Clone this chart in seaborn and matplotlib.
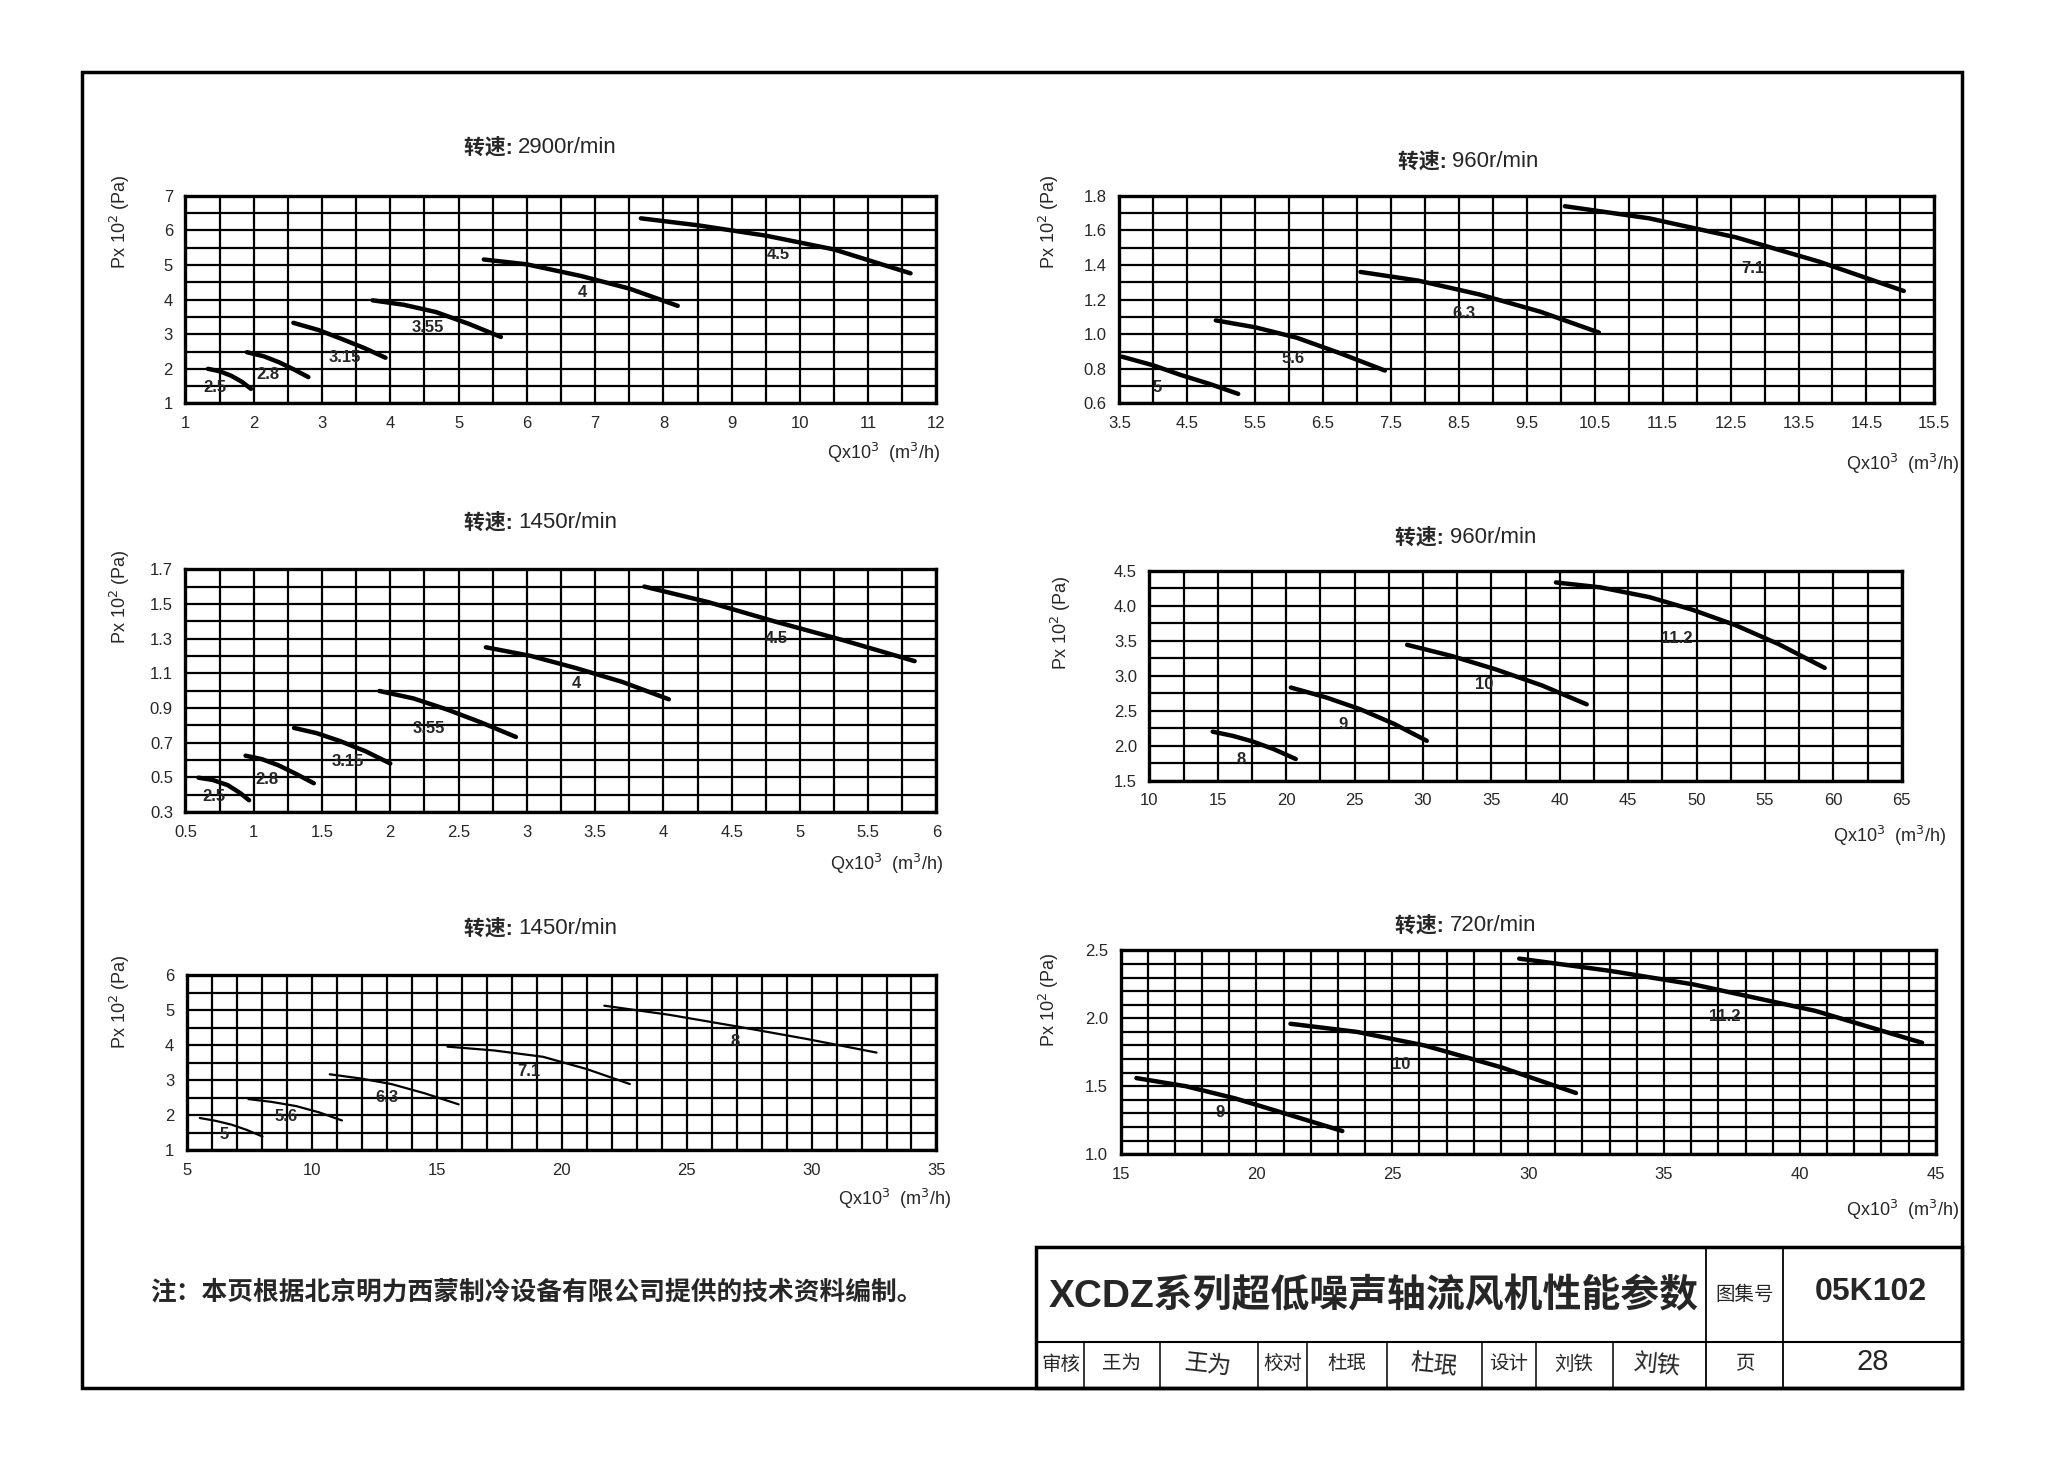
import numpy as np
import matplotlib
matplotlib.use("Agg")
import matplotlib.pyplot as plt
import seaborn as sns
from matplotlib.ticker import FormatStrFormatter
from matplotlib.patches import Rectangle
from matplotlib.lines import Line2D

sns.set_style("white")
plt.rcParams['font.family'] = ['Liberation Sans', 'Noto Sans CJK SC', 'DejaVu Sans']

# ---- panel 1: 2900 r/min ----
p1_names = ["2.5", "2.8", "3.15", "3.55", "4", "4.5"]
p1_q = [[1.33, 1.50, 1.67, 1.83, 1.96],
        [1.90, 2.15, 2.37, 2.60, 2.80],
        [2.58, 2.95, 3.28, 3.62, 3.93],
        [3.74, 4.20, 4.67, 5.15, 5.62],
        [5.37, 6.00, 6.80, 7.50, 8.21],
        [7.67, 8.50, 9.50, 10.50, 11.62]]
p1_p = [[2.00, 1.93, 1.80, 1.62, 1.42],
        [2.48, 2.36, 2.19, 1.97, 1.76],
        [3.33, 3.12, 2.87, 2.60, 2.32],
        [3.98, 3.85, 3.64, 3.30, 2.92],
        [5.16, 5.02, 4.68, 4.32, 3.82],
        [6.35, 6.15, 5.85, 5.45, 4.76]]
p1_lab_q = [1.43, 2.21, 3.33, 4.55, 6.81, 9.68]
p1_lab_p = [1.46, 1.85, 2.34, 3.20, 4.22, 5.29]

# ---- panel 2: 960 r/min ----
p2_names = ["5", "5.6", "6.3", "7.1"]
p2_q = [[3.54, 4.00, 4.40, 4.85, 5.25],
        [4.92, 5.50, 6.11, 6.75, 7.41],
        [7.05, 7.90, 8.80, 9.70, 10.56],
        [10.06, 11.30, 12.58, 13.80, 15.05]]
p2_p = [[0.87, 0.82, 0.765, 0.71, 0.655],
        [1.08, 1.04, 0.98, 0.89, 0.79],
        [1.36, 1.31, 1.23, 1.13, 1.01],
        [1.74, 1.67, 1.56, 1.42, 1.25]]
p2_lab_q = [4.06, 6.06, 8.58, 12.83]
p2_lab_p = [0.69, 0.86, 1.12, 1.38]

# ---- panel 3: 1450 r/min ----
p3_names = ["2.5", "2.8", "3.15", "3.55", "4", "4.5"]
p3_q = [[0.595, 0.70, 0.81, 0.90, 0.966],
        [0.94, 1.06, 1.18, 1.31, 1.44],
        [1.295, 1.46, 1.63, 1.82, 2.00],
        [1.92, 2.17, 2.42, 2.67, 2.92],
        [2.70, 3.03, 3.36, 3.70, 4.04],
        [3.86, 4.33, 4.81, 5.32, 5.84]]
p3_p = [[0.498, 0.485, 0.455, 0.41, 0.368],
        [0.625, 0.605, 0.57, 0.52, 0.466],
        [0.785, 0.755, 0.71, 0.65, 0.58],
        [0.998, 0.955, 0.89, 0.815, 0.733],
        [1.25, 1.20, 1.13, 1.05, 0.95],
        [1.60, 1.51, 1.40, 1.29, 1.17]]
p3_lab_q = [0.71, 1.10, 1.69, 2.28, 3.36, 4.83]
p3_lab_p = [0.39, 0.49, 0.59, 0.78, 1.04, 1.30]

# ---- panel 4: 960 r/min ----
p4_names = ["8", "9", "10", "11.2"]
p4_q = [[14.63, 16.10, 17.55, 19.10, 20.70],
        [20.34, 22.90, 25.42, 27.90, 30.28],
        [28.84, 32.10, 35.31, 38.70, 41.97],
        [39.72, 42.96, 46.56, 49.70, 52.85, 56.00, 59.37]]
p4_p = [[2.20, 2.14, 2.06, 1.95, 1.81],
        [2.83, 2.69, 2.52, 2.31, 2.07],
        [3.44, 3.28, 3.09, 2.86, 2.59],
        [4.33, 4.26, 4.12, 3.94, 3.72, 3.45, 3.11]]
p4_lab_q = [16.74, 24.16, 34.5, 48.58]
p4_lab_p = [1.81, 2.30, 2.88, 3.53]

# ---- panel 5: 1450 r/min ----
p5_names = ["5", "5.6", "6.3", "7.1", "8"]
p5_q = [[5.52, 6.15, 6.79, 7.40, 8.03],
        [7.47, 8.40, 9.38, 10.30, 11.21],
        [10.72, 11.95, 13.19, 14.50, 15.88],
        [15.43, 17.30, 19.25, 21.00, 22.73],
        [21.71, 24.30, 26.99, 29.80, 32.60]]
p5_p = [[1.92, 1.84, 1.73, 1.58, 1.39],
        [2.46, 2.38, 2.26, 2.08, 1.85],
        [3.17, 3.05, 2.89, 2.63, 2.31],
        [3.96, 3.85, 3.67, 3.32, 2.89],
        [5.13, 4.87, 4.54, 4.18, 3.79]]
p5_lab_q = [6.50, 8.99, 13.01, 18.69, 26.94]
p5_lab_p = [1.44, 1.97, 2.50, 3.26, 4.11]

# ---- panel 6: 720 r/min ----
p6_names = ["9", "10", "11.2"]
p6_q = [[15.58, 17.40, 19.22, 21.20, 23.16],
        [21.25, 23.70, 26.19, 29.00, 31.76],
        [29.67, 33.00, 36.08, 40.57, 44.50]]
p6_p = [[1.56, 1.50, 1.41, 1.29, 1.17],
        [1.96, 1.90, 1.80, 1.64, 1.45],
        [2.44, 2.35, 2.25, 2.055, 1.82]]
p6_lab_q = [18.66, 25.34, 37.25]
p6_lab_p = [1.31, 1.66, 2.01]

speeds = ["2900", "960", "1450", "960", "1450", "720"]

W, H = 1568, 1116


def fx(x):
    return x / W


def fy(y):
    return 1 - y / H


fig = plt.figure(figsize=(20.48, 14.57), dpi=100)


def draw_panel(box, names, qs, ps, lab_q, lab_p, xlim, ylim, xstep, xgrid,
               ystep, ygrid, xfmt, yfmt, lw, speed, title_xy, ylab_xy, xlab_xy):
    x0, y0, x1, y1 = box
    ax = fig.add_axes([fx(x0), fy(y1), fx(x1) - fx(x0), (y1 - y0) / H])
    for q, p in zip(qs, ps):
        sns.lineplot(x=q, y=p, ax=ax, color="black", linewidth=lw,
                     legend=False, zorder=3)
    for name, lq, lp in zip(names, lab_q, lab_p):
        ax.text(lq, lp, name, ha="center", va="center", fontsize=12,
                fontweight="bold", zorder=4)
    ax.set_xlim(*xlim)
    ax.set_ylim(*ylim)
    ax.set_xticks(np.arange(xlim[0], xlim[1] + 1e-9, xstep))
    ax.set_xticks(np.arange(xlim[0], xlim[1] + 1e-9, xgrid), minor=True)
    ax.set_yticks(np.arange(ylim[0], ylim[1] + 1e-9, ystep))
    ax.set_yticks(np.arange(ylim[0], ylim[1] + 1e-9, ygrid), minor=True)
    ax.xaxis.set_major_formatter(FormatStrFormatter(xfmt))
    ax.yaxis.set_major_formatter(FormatStrFormatter(yfmt))
    ax.grid(which="both", color="black", linewidth=1.6)
    ax.set_axisbelow(True)
    ax.tick_params(which="both", length=0, labelsize=12, pad=9)
    ax.set_xlabel("")
    ax.set_ylabel("")
    for s in ax.spines.values():
        s.set_color("black")
        s.set_linewidth(2.4)
        s.set_visible(True)
    fig.text(fx(title_xy[0]) - 0.002, fy(title_xy[1]), "转速: ", ha="right",
             va="center", fontsize=15, fontweight="bold")
    fig.text(fx(title_xy[0]) - 0.002, fy(title_xy[1]), speed + "r/min",
             ha="left", va="center", fontsize=16)
    fig.text(fx(ylab_xy[0]), fy(ylab_xy[1]), "Px 10$^{2}$ (Pa)", rotation=90,
             ha="center", va="center", fontsize=13)
    fig.text(fx(xlab_xy[0]), fy(xlab_xy[1]), "Qx10$^{3}$  (m$^{3}$/h)",
             ha="right", va="center", fontsize=13)
    return ax


draw_panel((142, 150, 717, 309), p1_names, p1_q, p1_p, p1_lab_q, p1_lab_p,
           (1, 12), (1, 7), 1, 0.5, 1, 0.5, "%g", "%d", 3.2, speeds[0],
           (400, 113), (92, 170), (720, 347))
draw_panel((857, 150, 1481, 309), p2_names, p2_q, p2_p, p2_lab_q, p2_lab_p,
           (3.5, 15.5), (0.6, 1.8), 1, 0.5, 0.2, 0.1, "%g", "%.1f", 3.2, speeds[1],
           (1115, 124), (803, 170), (1500, 355))
draw_panel((142, 436, 717, 622), p3_names, p3_q, p3_p, p3_lab_q, p3_lab_p,
           (0.5, 6), (0.3, 1.7), 0.5, 0.25, 0.2, 0.1, "%g", "%.1f", 3.2, speeds[2],
           (400, 400), (92, 457), (722, 662))
draw_panel((880, 437, 1456, 598), p4_names, p4_q, p4_p, p4_lab_q, p4_lab_p,
           (10, 65), (1.5, 4.5), 5, 2.5, 0.5, 0.25, "%d", "%.1f", 3.2, speeds[3],
           (1113, 412), (812, 477), (1490, 640))
draw_panel((143, 747, 717, 881), p5_names, p5_q, p5_p, p5_lab_q, p5_lab_p,
           (5, 35), (1, 6), 5, 1, 1, 0.5, "%d", "%d", 1.6, speeds[4],
           (400, 711), (92, 767), (728, 918))
draw_panel((858, 728, 1482, 884), p6_names, p6_q, p6_p, p6_lab_q, p6_lab_p,
           (15, 45), (1.0, 2.5), 5, 1, 0.5, 0.1, "%d", "%.1f", 3.2, speeds[5],
           (1113, 709), (803, 766), (1500, 927))

# ---- page frame and title block ----
def frame_rect(x0, y0, x1, y1, lw):
    fig.patches.append(Rectangle((fx(x0), fy(y1)), fx(x1) - fx(x0), (y1 - y0) / H,
                                 transform=fig.transFigure, fill=False,
                                 edgecolor="black", linewidth=lw))


def frame_line(xa, ya, xb, yb, lw):
    fig.lines.append(Line2D([fx(xa), fx(xb)], [fy(ya), fy(yb)],
                            transform=fig.transFigure, color="black", linewidth=lw))


frame_rect(63, 55, 1502, 1063, 2.5)
frame_rect(793, 955, 1502, 1063, 2.5)
frame_line(793, 1028, 1502, 1028, 1.5)
for xv in [1306, 1365]:
    frame_line(xv, 955, xv, 1063, 1.3)
for xv in [830, 888, 963, 1001, 1062, 1135, 1176, 1235]:
    frame_line(xv, 1028, xv, 1063, 1.1)

fig.text(fx(115), fy(990), "注：本页根据北京明力西蒙制冷设备有限公司提供的技术资料编制。",
         ha="left", va="center", fontsize=18.5, fontweight="bold")
fig.text(fx(1052), fy(993), "XCDZ系列超低噪声轴流风机性能参数", ha="center",
         va="center", fontsize=28, fontweight="bold")
fig.text(fx(1336), fy(992), "图集号", ha="center", va="center", fontsize=14)
fig.text(fx(1432), fy(990), "05K102", ha="center", va="center", fontsize=23,
         fontweight="bold")

row_texts = ["审核", "王为", "校对", "杜珉", "设计", "刘铁", "页"]
row_x = [812, 859, 982, 1031, 1155, 1205, 1336]
for t, xv in zip(row_texts, row_x):
    fig.text(fx(xv), fy(1045), t, ha="center", va="center", fontsize=14)
fig.text(fx(1434), fy(1043), "28", ha="center", va="center", fontsize=21)

sign_texts = ["王为", "杜珉", "刘铁"]
sign_x = [925, 1098, 1268]
for t, xv in zip(sign_texts, sign_x):
    fig.text(fx(xv), fy(1046), t, ha="center", va="center", fontsize=17,
             rotation=-6, fontweight="light")

fig.savefig("out.png", dpi=100, facecolor="white")
